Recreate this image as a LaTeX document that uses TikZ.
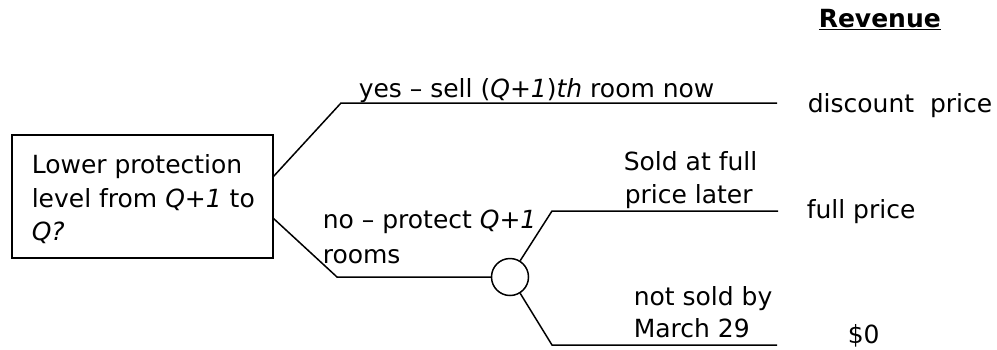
\documentclass[tikz,border=0pt]{standalone}
\usepackage{fontspec}
\setmainfont{DejaVu Sans}
\begin{document}
\begin{tikzpicture}[x=1pt,y=-1pt,line width=1.5pt,
  lbl/.style={anchor=base west,inner sep=0pt,font=\fontsize{25}{30}\selectfont},
  hdr/.style={anchor=base west,inner sep=0pt,font=\fontsize{25}{30}\selectfont\bfseries},
  decbox/.style={draw,line width=1.6pt,minimum width=261pt,minimum height=123pt,inner sep=0pt},
  chance/.style={circle,draw,line width=1.5pt,minimum size=37pt,inner sep=0pt}]
\useasboundingbox (0,0) rectangle (997,349);
% decision box
\node[decbox] (dec) at (142.5,196.5) {};
\node[lbl] (t1) at (31,173) {Lower protection};
\node[lbl] (t2) at (31,207) {level from \textit{Q+1} to};
\node[lbl] (t3) at (31,240) {\textit{Q?}};
% chance node
\node[chance] (ch) at (510,277) {};
% coordinates
\coordinate (a1) at (273,177);
\coordinate (u1) at (341,103);
\coordinate (u2) at (777,103);
\coordinate (a2) at (273,218);
\coordinate (n1) at (337,277);
\coordinate (f1) at (552,211);
\coordinate (f2) at (778,211);
\coordinate (z1) at (552,345);
\coordinate (z2) at (777,345);
% branches
\draw (a1) -- (u1) -- (u2);
\draw (a2) -- (n1) -- (ch.west);
\draw (ch.58) -- (f1) -- (f2);
\draw (ch.-58) -- (z1) -- (z2);
% labels
\node[lbl] (yes) at (358,97) {yes -- sell (\textit{Q+1})\textit{th} room now};
\node[lbl] (no1) at (322,228) {no -- protect \textit{Q+1}};
\node[lbl] (no2) at (322,263) {rooms};
\node[lbl] (s1) at (623,170) {Sold at full};
\node[lbl] (s2) at (624,203) {price later};
\node[lbl] (ns1) at (633,305) {not sold by};
\node[lbl] (ns2) at (633,337) {March 29};
% revenue column
\node[hdr] (rev) at (818,27) {\underline{Revenue}};
\node[lbl] (r1) at (807,112) {discount\ \ price};
\node[lbl] (r2) at (806,218) {full price};
\node[lbl] (r3) at (847,343) {\$0};
\end{tikzpicture}
\end{document}
